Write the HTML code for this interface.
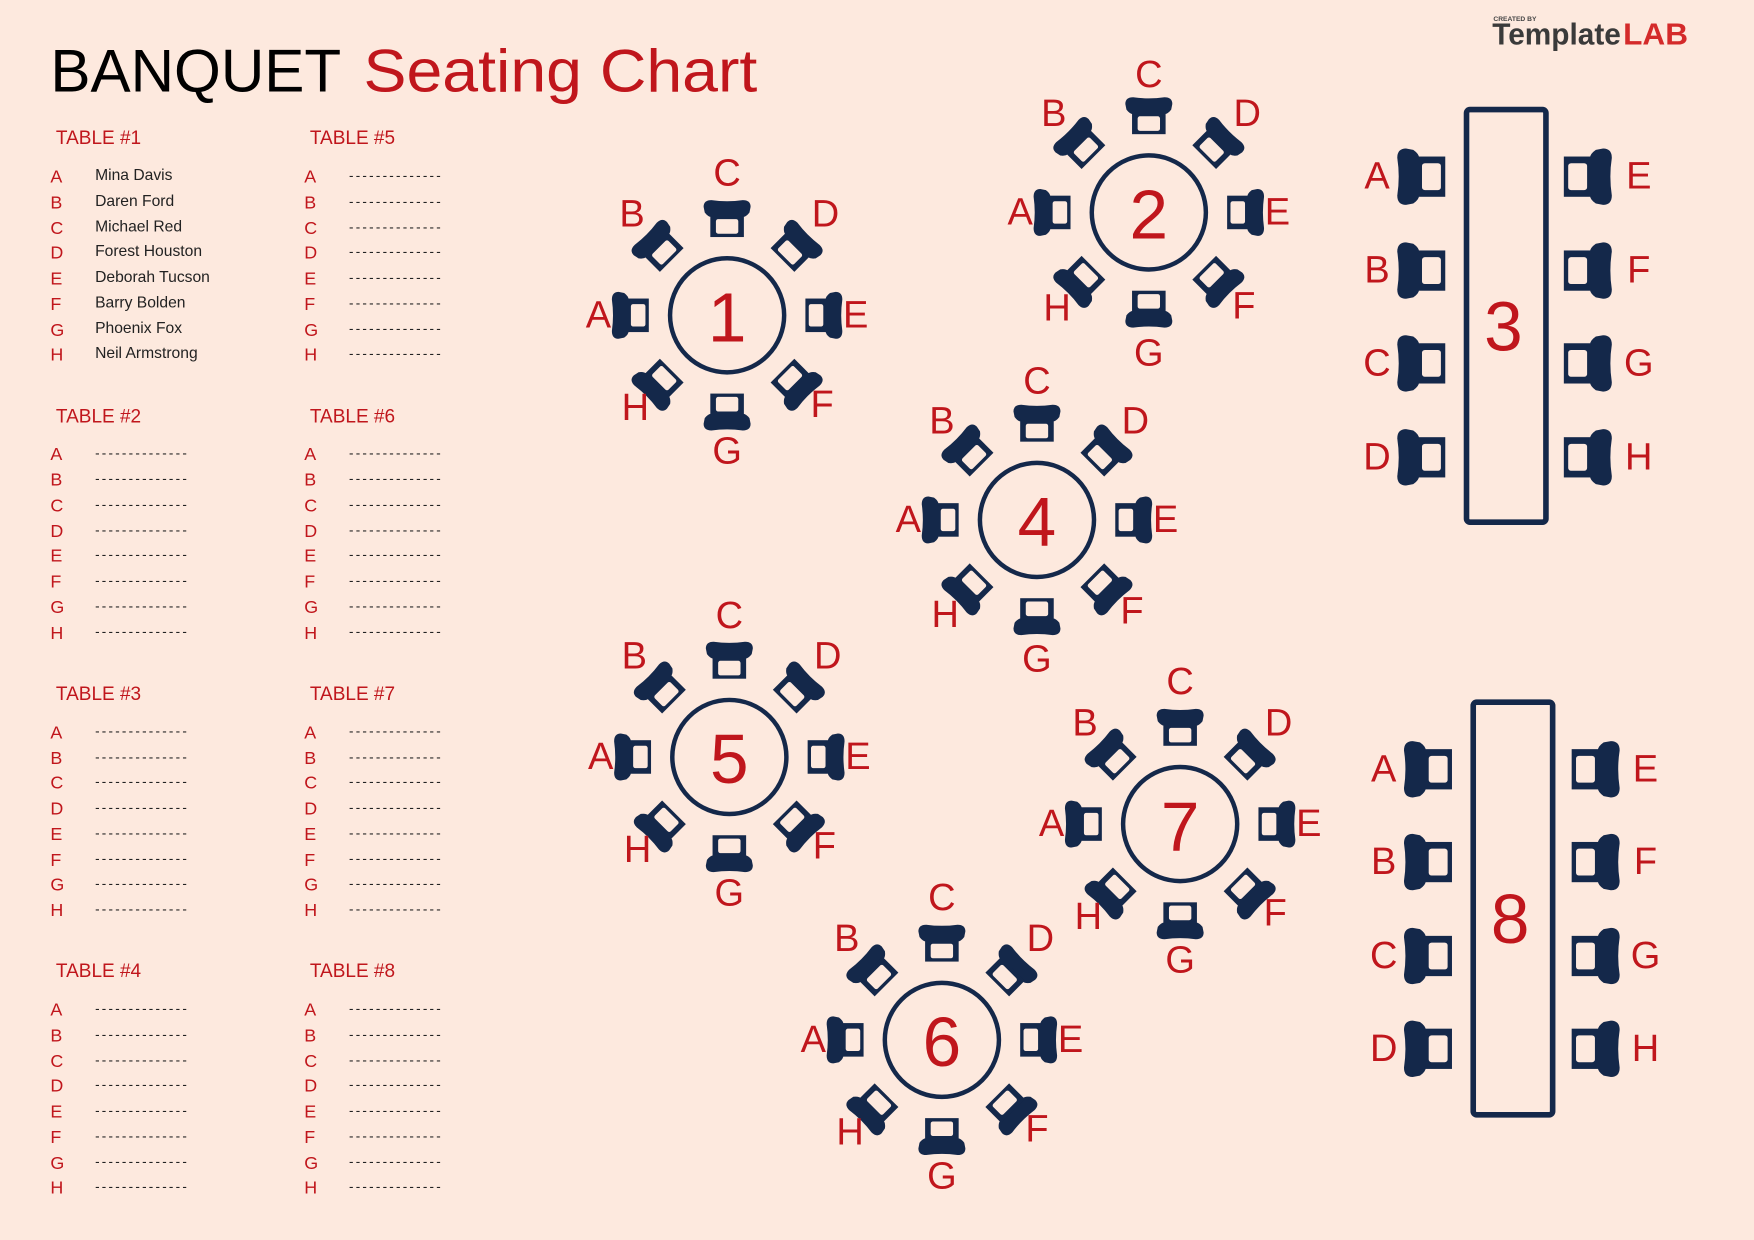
<!DOCTYPE html>
<html><head><meta charset="utf-8"><style>
html,body{margin:0;padding:0;background:#fde9de;}
svg{display:block}
.r{fill:#c0161c;font-family:"Liberation Sans",sans-serif}
.k{fill:#222;font-family:"Liberation Sans",sans-serif}
.lb{font-size:34px;text-anchor:middle;dominant-baseline:central}
.num{font-size:62px;text-anchor:middle;dominant-baseline:central}
.h{font-size:17px;dominant-baseline:central}
.l{font-size:16px;dominant-baseline:central}
.n{font-size:14px;dominant-baseline:central;fill:#222;font-family:"Liberation Sans",sans-serif}
.d{font-size:12px;dominant-baseline:central;fill:#222;font-family:"Liberation Sans",sans-serif}
</style></head><body>
<svg width="1754" height="1240" viewBox="0 0 1568 1109" preserveAspectRatio="none" xmlns="http://www.w3.org/2000/svg">
<defs>
<g id="ch">
<path d="M-14,-33 Q0,-31 14,-33 Q21,-33 21,-27 L20,-22 Q17,-18 14,-18 L-14,-18 Q-17,-18 -20,-22 L-21,-27 Q-21,-33 -14,-33 Z" fill="#14284a"/>
<rect x="-15" y="-20" width="30" height="20" fill="#14284a"/>
<rect x="-10" y="-16" width="20" height="13" rx="2" fill="#fde9de"/>
</g>
<g id="rt">
<circle r="51" fill="none" stroke="#14284a" stroke-width="4"/>
<use href="#ch" transform="rotate(0) translate(0,-70)"/>
<use href="#ch" transform="rotate(45) translate(0,-70)"/>
<use href="#ch" transform="rotate(90) translate(0,-70)"/>
<use href="#ch" transform="rotate(135) translate(0,-70)"/>
<use href="#ch" transform="rotate(180) translate(0,-70)"/>
<use href="#ch" transform="rotate(225) translate(0,-70)"/>
<use href="#ch" transform="rotate(270) translate(0,-70)"/>
<use href="#ch" transform="rotate(315) translate(0,-70)"/>
</g>
</defs>
<rect width="1568" height="1109" fill="#fde9de"/>
<text x="45" y="82" class="k" font-size="54" textLength="260" lengthAdjust="spacingAndGlyphs" style="fill:#000">BANQUET</text>
<text x="325" y="82" class="r" font-size="54" textLength="352" lengthAdjust="spacingAndGlyphs">Seating Chart</text>
<text x="1335" y="19" font-size="6" font-weight="bold" fill="#444" font-family="Liberation Sans,sans-serif">CREATED BY</text>
<text x="1334" y="40" font-size="27" font-weight="bold" fill="#3a3a3a" font-family="Liberation Sans,sans-serif" textLength="115" lengthAdjust="spacingAndGlyphs">Template</text>
<text x="1451" y="40" font-size="27" font-weight="bold" fill="#d42a2a" font-family="Liberation Sans,sans-serif" textLength="58" lengthAdjust="spacingAndGlyphs">LAB</text>

<g class="r">
<text x="50" y="124" class="h r">TABLE #1</text><text x="277" y="124" class="h r">TABLE #5</text>
<text x="50" y="373" class="h r">TABLE #2</text><text x="277" y="373" class="h r">TABLE #6</text>
<text x="50" y="621" class="h r">TABLE #3</text><text x="277" y="621" class="h r">TABLE #7</text>
<text x="50" y="869" class="h r">TABLE #4</text><text x="277" y="869" class="h r">TABLE #8</text>
</g>
<g class="r l">
<text x="45" y="158">A</text><text x="45" y="181">B</text><text x="45" y="204">C</text><text x="45" y="226">D</text><text x="45" y="249">E</text><text x="45" y="272">F</text><text x="45" y="295">G</text><text x="45" y="317">H</text>
<text x="272" y="158">A</text><text x="272" y="181">B</text><text x="272" y="204">C</text><text x="272" y="226">D</text><text x="272" y="249">E</text><text x="272" y="272">F</text><text x="272" y="295">G</text><text x="272" y="317">H</text>
<text x="45" y="406">A</text><text x="45" y="429">B</text><text x="45" y="452">C</text><text x="45" y="475">D</text><text x="45" y="497">E</text><text x="45" y="520">F</text><text x="45" y="543">G</text><text x="45" y="566">H</text>
<text x="272" y="406">A</text><text x="272" y="429">B</text><text x="272" y="452">C</text><text x="272" y="475">D</text><text x="272" y="497">E</text><text x="272" y="520">F</text><text x="272" y="543">G</text><text x="272" y="566">H</text>
<text x="45" y="655">A</text><text x="45" y="678">B</text><text x="45" y="700">C</text><text x="45" y="723">D</text><text x="45" y="746">E</text><text x="45" y="769">F</text><text x="45" y="791">G</text><text x="45" y="814">H</text>
<text x="272" y="655">A</text><text x="272" y="678">B</text><text x="272" y="700">C</text><text x="272" y="723">D</text><text x="272" y="746">E</text><text x="272" y="769">F</text><text x="272" y="791">G</text><text x="272" y="814">H</text>
<text x="45" y="903">A</text><text x="45" y="926">B</text><text x="45" y="949">C</text><text x="45" y="971">D</text><text x="45" y="994">E</text><text x="45" y="1017">F</text><text x="45" y="1040">G</text><text x="45" y="1062">H</text>
<text x="272" y="903">A</text><text x="272" y="926">B</text><text x="272" y="949">C</text><text x="272" y="971">D</text><text x="272" y="994">E</text><text x="272" y="1017">F</text><text x="272" y="1040">G</text><text x="272" y="1062">H</text>
</g>
<g class="n">
<text x="85" y="157">Mina Davis</text><text x="85" y="180">Daren Ford</text><text x="85" y="203">Michael Red</text><text x="85" y="225">Forest Houston</text><text x="85" y="248">Deborah Tucson</text><text x="85" y="271">Barry Bolden</text><text x="85" y="294">Phoenix Fox</text><text x="85" y="316">Neil Armstrong</text>
</g>
<g class="d">
<text x="312" y="157" textLength="82">--------------</text><text x="312" y="180" textLength="82">--------------</text><text x="312" y="203" textLength="82">--------------</text><text x="312" y="225" textLength="82">--------------</text><text x="312" y="248" textLength="82">--------------</text><text x="312" y="271" textLength="82">--------------</text><text x="312" y="294" textLength="82">--------------</text><text x="312" y="316" textLength="82">--------------</text>
<text x="85" y="405" textLength="82">--------------</text><text x="85" y="428" textLength="82">--------------</text><text x="85" y="451" textLength="82">--------------</text><text x="85" y="474" textLength="82">--------------</text><text x="85" y="496" textLength="82">--------------</text><text x="85" y="519" textLength="82">--------------</text><text x="85" y="542" textLength="82">--------------</text><text x="85" y="565" textLength="82">--------------</text>
<text x="312" y="405" textLength="82">--------------</text><text x="312" y="428" textLength="82">--------------</text><text x="312" y="451" textLength="82">--------------</text><text x="312" y="474" textLength="82">--------------</text><text x="312" y="496" textLength="82">--------------</text><text x="312" y="519" textLength="82">--------------</text><text x="312" y="542" textLength="82">--------------</text><text x="312" y="565" textLength="82">--------------</text>
<text x="85" y="654" textLength="82">--------------</text><text x="85" y="677" textLength="82">--------------</text><text x="85" y="699" textLength="82">--------------</text><text x="85" y="722" textLength="82">--------------</text><text x="85" y="745" textLength="82">--------------</text><text x="85" y="768" textLength="82">--------------</text><text x="85" y="790" textLength="82">--------------</text><text x="85" y="813" textLength="82">--------------</text>
<text x="312" y="654" textLength="82">--------------</text><text x="312" y="677" textLength="82">--------------</text><text x="312" y="699" textLength="82">--------------</text><text x="312" y="722" textLength="82">--------------</text><text x="312" y="745" textLength="82">--------------</text><text x="312" y="768" textLength="82">--------------</text><text x="312" y="790" textLength="82">--------------</text><text x="312" y="813" textLength="82">--------------</text>
<text x="85" y="902" textLength="82">--------------</text><text x="85" y="925" textLength="82">--------------</text><text x="85" y="948" textLength="82">--------------</text><text x="85" y="970" textLength="82">--------------</text><text x="85" y="993" textLength="82">--------------</text><text x="85" y="1016" textLength="82">--------------</text><text x="85" y="1039" textLength="82">--------------</text><text x="85" y="1061" textLength="82">--------------</text>
<text x="312" y="902" textLength="82">--------------</text><text x="312" y="925" textLength="82">--------------</text><text x="312" y="948" textLength="82">--------------</text><text x="312" y="970" textLength="82">--------------</text><text x="312" y="993" textLength="82">--------------</text><text x="312" y="1016" textLength="82">--------------</text><text x="312" y="1039" textLength="82">--------------</text><text x="312" y="1061" textLength="82">--------------</text>
</g>

<g transform="translate(650,282)"><use href="#rt"/><g class="r lb"><text x="-115" y="0">A</text><text x="-85" y="-90">B</text><text x="0" y="-127">C</text><text x="88" y="-90">D</text><text x="115" y="0">E</text><text x="85" y="80">F</text><text x="0" y="122">G</text><text x="-82" y="83">H</text></g><text class="r num" y="2">1</text></g>
<g transform="translate(1027,190)"><use href="#rt"/><g class="r lb"><text x="-115" y="0">A</text><text x="-85" y="-88">B</text><text x="0" y="-123">C</text><text x="88" y="-88">D</text><text x="115" y="0">E</text><text x="85" y="84">F</text><text x="0" y="126">G</text><text x="-82" y="86">H</text></g><text class="r num" y="2">2</text></g>
<g transform="translate(927,465)"><use href="#rt"/><g class="r lb"><text x="-115" y="0">A</text><text x="-85" y="-88">B</text><text x="0" y="-124">C</text><text x="88" y="-88">D</text><text x="115" y="0">E</text><text x="85" y="82">F</text><text x="0" y="125">G</text><text x="-82" y="85">H</text></g><text class="r num" y="2">4</text></g>
<g transform="translate(652,677)"><use href="#rt"/><g class="r lb"><text x="-115" y="0">A</text><text x="-85" y="-90">B</text><text x="0" y="-126">C</text><text x="88" y="-90">D</text><text x="115" y="0">E</text><text x="85" y="80">F</text><text x="0" y="122">G</text><text x="-82" y="83">H</text></g><text class="r num" y="2">5</text></g>
<g transform="translate(1055,737)"><use href="#rt"/><g class="r lb"><text x="-115" y="0">A</text><text x="-85" y="-90">B</text><text x="0" y="-127">C</text><text x="88" y="-90">D</text><text x="115" y="0">E</text><text x="85" y="80">F</text><text x="0" y="122">G</text><text x="-82" y="83">H</text></g><text class="r num" y="2">7</text></g>
<g transform="translate(842,930)"><use href="#rt"/><g class="r lb"><text x="-115" y="0">A</text><text x="-85" y="-90">B</text><text x="0" y="-127">C</text><text x="88" y="-90">D</text><text x="115" y="0">E</text><text x="85" y="80">F</text><text x="0" y="122">G</text><text x="-82" y="83">H</text></g><text class="r num" y="2">6</text></g>

<rect x="1311" y="98" width="71" height="369" rx="3" fill="none" stroke="#14284a" stroke-width="5"/>
<text class="r num" x="1344" y="292">3</text>
<use href="#ch" transform="translate(1292,158) rotate(-90) scale(1.2,1.3)"/>
<use href="#ch" transform="translate(1292,242) rotate(-90) scale(1.2,1.3)"/>
<use href="#ch" transform="translate(1292,325) rotate(-90) scale(1.2,1.3)"/>
<use href="#ch" transform="translate(1292,409) rotate(-90) scale(1.2,1.3)"/>
<use href="#ch" transform="translate(1398,158) rotate(90) scale(1.2,1.3)"/>
<use href="#ch" transform="translate(1398,242) rotate(90) scale(1.2,1.3)"/>
<use href="#ch" transform="translate(1398,325) rotate(90) scale(1.2,1.3)"/>
<use href="#ch" transform="translate(1398,409) rotate(90) scale(1.2,1.3)"/>
<g class="r lb"><text x="1231" y="158">A</text><text x="1231" y="242">B</text><text x="1231" y="325">C</text><text x="1231" y="409">D</text>
<text x="1465" y="158">E</text><text x="1465" y="242">F</text><text x="1465" y="325">G</text><text x="1465" y="409">H</text></g>

<rect x="1317" y="628" width="71" height="369" rx="3" fill="none" stroke="#14284a" stroke-width="5"/>
<text class="r num" x="1350" y="822">8</text>
<use href="#ch" transform="translate(1298,688) rotate(-90) scale(1.2,1.3)"/>
<use href="#ch" transform="translate(1298,771) rotate(-90) scale(1.2,1.3)"/>
<use href="#ch" transform="translate(1298,855) rotate(-90) scale(1.2,1.3)"/>
<use href="#ch" transform="translate(1298,938) rotate(-90) scale(1.2,1.3)"/>
<use href="#ch" transform="translate(1405,688) rotate(90) scale(1.2,1.3)"/>
<use href="#ch" transform="translate(1405,771) rotate(90) scale(1.2,1.3)"/>
<use href="#ch" transform="translate(1405,855) rotate(90) scale(1.2,1.3)"/>
<use href="#ch" transform="translate(1405,938) rotate(90) scale(1.2,1.3)"/>
<g class="r lb"><text x="1237" y="688">A</text><text x="1237" y="771">B</text><text x="1237" y="855">C</text><text x="1237" y="938">D</text>
<text x="1471" y="688">E</text><text x="1471" y="771">F</text><text x="1471" y="855">G</text><text x="1471" y="938">H</text></g>
</svg>
</body></html>
